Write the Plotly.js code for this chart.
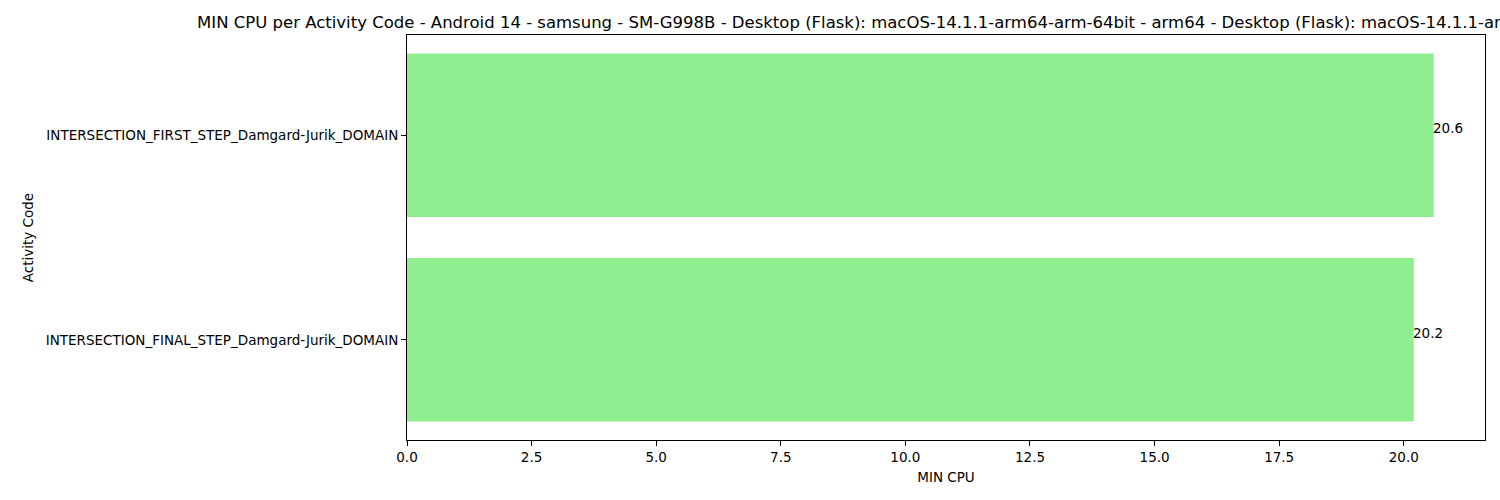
<!DOCTYPE html>
<html>
<head>
<meta charset="utf-8">
<script src="https://cdn.plot.ly/plotly-3.0.1.min.js"></script>
<style>body{margin:0;background:#fff}#plot{width:1500px;height:500px}</style>
</head>
<body>
<div id="plot"></div>
<script>
// bottom-up order, as plotly draws categories
const activityCodes = [
    'INTERSECTION_FINAL_STEP_Damgard-Jurik_DOMAIN',
    'INTERSECTION_FIRST_STEP_Damgard-Jurik_DOMAIN'
];
const minCpu = [20.2, 20.6];
const xTicks = [0, 2.5, 5, 7.5, 10, 12.5, 15, 17.5, 20];

const titleText = 'MIN CPU per Activity Code - Android 14 - samsung - SM-G998B - Desktop (Flask): macOS-14.1.1-arm64-arm-64bit - arm64 - Desktop (Flask): macOS-14.1.1-arm64-arm-64bit - arm64';

const trace = {
    type: 'bar',
    orientation: 'h',
    y: activityCodes,
    x: minCpu,
    width: 0.8,
    marker: { color: '#90EE90' },
    hoverinfo: 'none'
};

const annotations = minCpu.map((v, i) => ({
    x: v, y: i, xref: 'x', yref: 'y',
    text: v.toFixed(1),
    showarrow: false,
    xanchor: 'left', xshift: -3, yanchor: 'bottom', yshift: -3,
    font: { size: 13.5, color: '#000' }
}));

const layout = {
    width: 1500,
    height: 500,
    margin: { l: 407, r: 15, t: 35, b: 60 },
    paper_bgcolor: '#fff',
    plot_bgcolor: '#fff',
    font: { family: 'DejaVu Sans', color: '#000', size: 13.5 },
    showlegend: false,
    title: {
        text: titleText,
        x: 0.5, xref: 'paper', xanchor: 'center',
        y: 0.955, yref: 'container', yanchor: 'middle',
        font: { size: 16.5 }
    },
    xaxis: {
        range: [0, 21.63],
        tickvals: xTicks,
        ticktext: xTicks.map(t => t.toFixed(1)),
        ticks: 'outside', ticklen: 5, tickcolor: '#000',
        showgrid: false, zeroline: false,
        showline: true, linecolor: '#000', mirror: true,
        title: { text: 'MIN CPU', font: { size: 13.5 }, standoff: 8 }
    },
    yaxis: {
        range: [-0.49, 1.49],
        ticks: 'outside', ticklen: 5, tickcolor: '#000',
        showgrid: false, zeroline: false,
        showline: true, linecolor: '#000', mirror: true,
        title: { text: 'Activity Code', font: { size: 13.5 }, standoff: 8 }
    },
    annotations: annotations
};

Plotly.newPlot('plot', [trace], layout, { displayModeBar: false, staticPlot: true });
</script>
</body>
</html>
